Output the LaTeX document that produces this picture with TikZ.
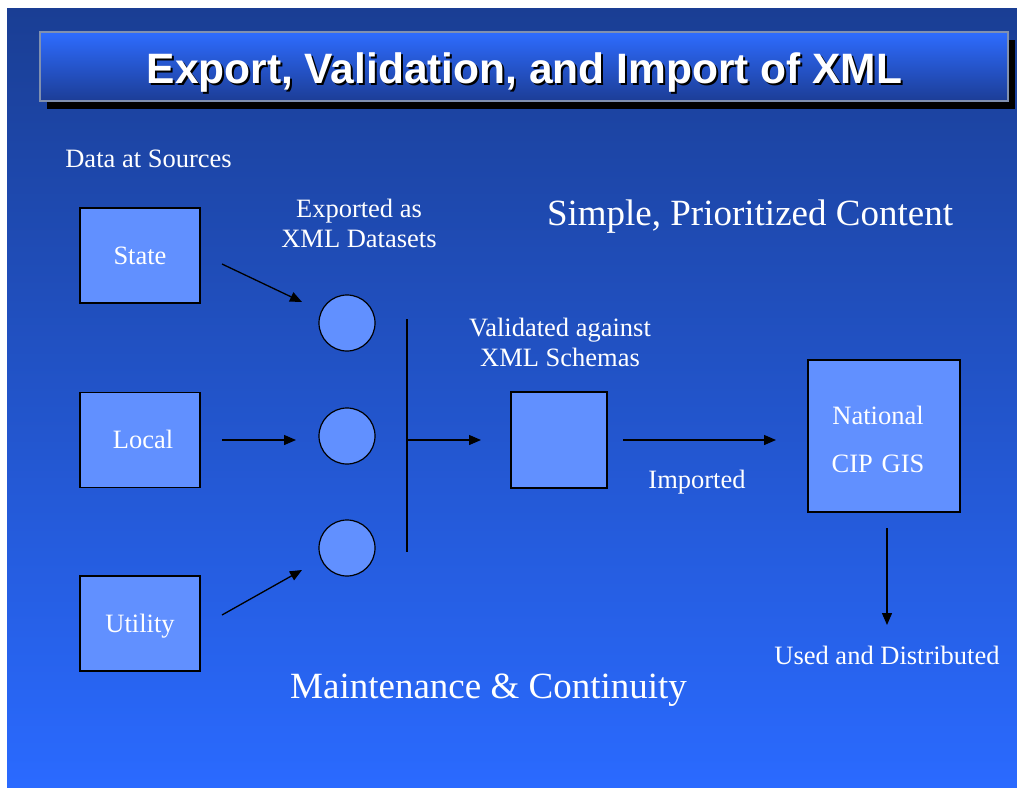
\documentclass[tikz,border=0pt]{standalone}
\usepackage{fontspec}
\setmainfont{Liberation Serif}
\newfontfamily\titlefont{Liberation Sans}
\usetikzlibrary{arrows.meta}
\definecolor{bgtop}{HTML}{1A3E94}
\definecolor{bgbot}{HTML}{2A6AFF}
\definecolor{bartop}{HTML}{2E6CFF}
\definecolor{barbot}{HTML}{1C3D96}
\definecolor{barline}{HTML}{8090B0}
\definecolor{boxfill}{HTML}{6190FF}
\tikzset{
  srcbox/.style={draw=black, line width=1.2pt, fill=boxfill, minimum width=120pt, minimum height=95pt, inner sep=0pt, text=white, font=\fontsize{26.5}{30}\selectfont},
  dataset/.style={draw=black, line width=1.2pt, fill=boxfill, circle, minimum size=56pt, inner sep=0pt},
  lbl/.style={text=white, font=\fontsize{26.5}{30}\selectfont, align=center, inner sep=0pt},
  biglbl/.style={text=white, font=\fontsize{37}{42}\selectfont, inner sep=0pt},
  conn/.style={line width=1.3pt, -{Triangle[length=12pt,width=10pt]}},
  bar/.style={line width=1.3pt}
}
\newcommand{\dropby}[2]{\raisebox{-#1}[\height][\depth]{#2}}
\begin{document}
\begin{tikzpicture}[x=1pt,y=-1pt]
\useasboundingbox (0,0) rectangle (1017,787);
\fill[white] (0,0) rectangle (1017,787);
\shade[top color=bgtop, bottom color=bgbot] (7,8) rectangle (1017,787);
% title bar
\fill[black] (47,40) rectangle (1015,109);
\shade[top color=bartop, bottom color=barbot, draw=barline, line width=1.5pt] (40,32) rectangle (1008,101);
\node[text=black, font=\titlefont\bfseries\fontsize{42.5}{48}\selectfont, inner sep=0pt] (titleshadow) at (526.5,75) {Export, Validation, and Import of XML};
\node[text=white, font=\titlefont\bfseries\fontsize{42.5}{48}\selectfont, inner sep=0pt] (title) at (524.5,73) {Export, Validation, and Import of XML};
% labels
\node[lbl] (datasrc) at (148.5,159) {Data at Sources};
\node[lbl] (exported) at (359,223) {Exported as\\XML Datasets};
\node[biglbl] (simple) at (750,217) {Simple, Prioritized Content};
\node[lbl] (validated) at (560,342) {Validated against\\XML Schemas};
\node[lbl] (imported) at (697,482) {Imported};
\node[lbl] (used) at (887,655) {Used and Distributed};
\node[biglbl] (maint) at (488.5,690) {Maintenance \& Continuity};
% source boxes
\node[srcbox] (state) at (140,255.5) {State};
\node[srcbox] (local) at (140,440) {\hspace*{6pt}\dropby{-1pt}{Local}};
\node[srcbox] (utility) at (140,623.5) {\dropby{3pt}{Utility}};
% datasets
\node[dataset] (c1) at (347,323) {};
\node[dataset] (c2) at (347,436) {};
\node[dataset] (c3) at (347,548) {};
% validation box
\node[srcbox, minimum width=96pt, minimum height=96pt] (schema) at (559,440) {};
% national
\node[srcbox, minimum width=152pt, minimum height=152pt, align=center, font=\fontsize{26.5}{48}\selectfont, text width=152pt] (national) at (884,436) {\hspace*{-12pt}\dropby{3pt}{National}\\\hspace*{-12pt}\dropby{3pt}{CIP GIS}};
% connector coordinates
\coordinate (s1) at (222,264);
\coordinate (e1) at (302,302);
\coordinate (s2) at (222,440);
\coordinate (e2) at (296,440);
\coordinate (s3) at (222,615);
\coordinate (e3) at (302,570);
\coordinate (bt) at (407,319);
\coordinate (bb) at (407,552);
\coordinate (bm) at (407,440);
\coordinate (e4) at (481,440);
\coordinate (s5) at (623,440);
\coordinate (e5) at (776,440);
\coordinate (s6) at (887,528);
\coordinate (e6) at (887,625);
\draw[conn] (s1) -- (e1);
\draw[conn] (s2) -- (e2);
\draw[conn] (s3) -- (e3);
\draw[bar] (bt) -- (bb);
\draw[conn] (bm) -- (e4);
\draw[conn] (s5) -- (e5);
\draw[conn] (s6) -- (e6);
\end{tikzpicture}
\end{document}
